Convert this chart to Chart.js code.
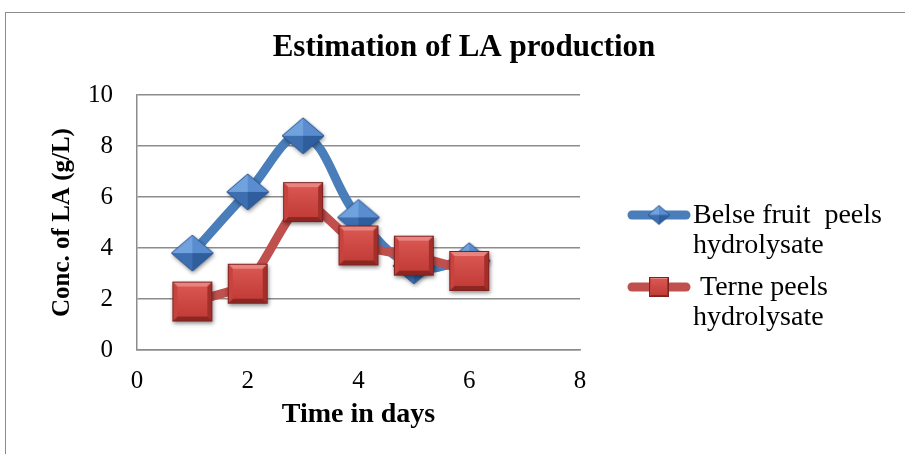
<!DOCTYPE html>
<html>
<head>
<meta charset="utf-8">
<script src="https://cdn.jsdelivr.net/npm/chart.js@4.4.0/dist/chart.umd.min.js"></script>
<style>
html, body { margin: 0; padding: 0; background: #fff; overflow: hidden; }
#wrap { position: relative; width: 905px; height: 454px; }
#frame { position: absolute; left: 5px; top: 12px; width: 1000px; height: 1000px;
  border-top: 1.5px solid #8c8c8c; border-left: 1.5px solid #8c8c8c; pointer-events: none; }
</style>
</head>
<body>
<div id="wrap">
  <canvas id="myChart" width="905" height="454" style="width:905px;height:454px"></canvas>
  <div id="frame"></div>
</div>
<script>
const days = [1, 2, 3, 4, 5, 6];
const belse = [3.8, 6.2, 8.4, 5.2, 3.3, 3.5];
const terne = [1.9, 2.6, 5.8, 4.1, 3.7, 3.1];
const xTicks = [0, 2, 4, 6, 8];
const yTicks = [0, 2, 4, 6, 8, 10];
const chartTitle = 'Estimation of LA production';
const belseName = ['Belse fruit  peels', 'hydrolysate'];
const terneName = [' Terne peels', 'hydrolysate'];

const serif = "'Liberation Serif', 'Times New Roman', serif";
const blue = '#4a7ebb';
const red = '#c0504d';

function poly(g, pts) {
    g.beginPath();
    g.moveTo(pts[0][0], pts[0][1]);
    for (let i = 1; i < pts.length; i++) g.lineTo(pts[i][0], pts[i][1]);
    g.closePath();
}

// excel style bevelled diamond
function diamondImg(w, h, shadow) {
    const pad = shadow ? 6 : 1;
    const c = document.createElement('canvas');
    c.width = w + pad * 2;
    c.height = h + pad * 2;
    const g = c.getContext('2d');
    const cx = c.width / 2, cy = c.height / 2;
    const L = [cx - w / 2, cy], T = [cx, cy - h / 2], R = [cx + w / 2, cy], B = [cx, cy + h / 2], C = [cx, cy];
    if (shadow) {
        g.save();
        g.shadowColor = 'rgba(0,0,0,0.45)';
        g.shadowBlur = 4;
        g.shadowOffsetX = 1;
        g.shadowOffsetY = 2;
        poly(g, [L, T, R, B]);
        g.fillStyle = '#3a6aa8';
        g.fill();
        g.restore();
    }
    const faces = [[L, T, '#70a2de'], [T, R, '#5a8dcf'], [R, B, '#2f5e9e'], [B, L, '#3d6eb0']];
    faces.forEach(f => { poly(g, [f[0], f[1], C]); g.fillStyle = f[2]; g.fill(); });
    poly(g, [L, T, R, B]);
    g.strokeStyle = '#2a5590';
    g.lineWidth = 1;
    g.stroke();
    return c;
}

// excel style bevelled square
function squareImg(s, shadow) {
    const pad = shadow ? 6 : 1;
    const c = document.createElement('canvas');
    c.width = s + pad * 2;
    c.height = s + pad * 2;
    const g = c.getContext('2d');
    const x0 = pad, y0 = pad, x1 = pad + s, y1 = pad + s;
    const b = Math.round(s * 0.12);
    if (shadow) {
        g.save();
        g.shadowColor = 'rgba(0,0,0,0.45)';
        g.shadowBlur = 4;
        g.shadowOffsetX = 1;
        g.shadowOffsetY = 2;
        g.fillStyle = '#a8302c';
        g.fillRect(x0, y0, s, s);
        g.restore();
    }
    const grad = g.createLinearGradient(0, y0, 0, y1);
    grad.addColorStop(0, '#dc5a55');
    grad.addColorStop(1, '#bf3834');
    g.fillStyle = grad;
    g.fillRect(x0, y0, s, s);
    poly(g, [[x0, y0], [x1, y0], [x1 - b, y0 + b], [x0 + b, y0 + b]]); g.fillStyle = '#e8837e'; g.fill();
    poly(g, [[x1, y0], [x1, y1], [x1 - b, y1 - b], [x1 - b, y0 + b]]); g.fillStyle = '#a32f2b'; g.fill();
    poly(g, [[x1, y1], [x0, y1], [x0 + b, y1 - b], [x1 - b, y1 - b]]); g.fillStyle = '#8c2623'; g.fill();
    poly(g, [[x0, y1], [x0, y0], [x0 + b, y0 + b], [x0 + b, y1 - b]]); g.fillStyle = '#c8423e'; g.fill();
    g.strokeStyle = '#7d2220';
    g.lineWidth = 1;
    g.strokeRect(x0 + 0.5, y0 + 0.5, s - 1, s - 1);
    return c;
}

const blueMark = diamondImg(42, 36, true);
const redMark = squareImg(40, true);
const blueMarkSmall = diamondImg(22, 19, false);
const redMarkSmall = squareImg(20, false);

// title centred on the whole picture, legend at the right with two-line labels
const sidePlugin = {
    id: 'sideStuff',
    afterDraw(chart) {
        const ctx = chart.ctx;
        ctx.save();
        ctx.fillStyle = '#000';
        ctx.font = 'bold 31px ' + serif;
        ctx.textAlign = 'center';
        ctx.textBaseline = 'middle';
        ctx.fillText(chartTitle, 464, 48);

        const items = [
            { color: blue, img: blueMarkSmall, y: 215, lines: belseName },
            { color: red, img: redMarkSmall, y: 287, lines: terneName }
        ];
        items.forEach(it => {
            ctx.strokeStyle = it.color;
            ctx.lineWidth = 9;
            ctx.lineCap = 'round';
            ctx.beginPath();
            ctx.moveTo(632, it.y);
            ctx.lineTo(686, it.y);
            ctx.stroke();
            ctx.drawImage(it.img, 659 - it.img.width / 2, it.y - it.img.height / 2);
            ctx.fillStyle = '#000';
            ctx.font = '28px ' + serif;
            ctx.textBaseline = 'middle';
            ctx.textAlign = 'left';
            it.lines.forEach((t, i) => ctx.fillText(t, 693, it.y + 1 + i * 30));
        });
        ctx.restore();
    }
};

const chart = document.querySelector('#myChart');
let myChart = new Chart(chart, {
    type: 'line',
    data: {
        datasets: [{
            label: belseName.join(' '),
            data: days.map((d, i) => ({ x: d, y: belse[i] })),
            borderColor: blue,
            backgroundColor: blue,
            borderWidth: 9,
            tension: 0.4,
            pointStyle: blueMark,
            pointRadius: 20,
            order: 2
        }, {
            label: terneName.join(' '),
            data: days.map((d, i) => ({ x: d, y: terne[i] })),
            borderColor: red,
            backgroundColor: red,
            borderWidth: 9,
            tension: 0.2,
            pointStyle: redMark,
            pointRadius: 20,
            order: 1
        }]
    },
    options: {
        responsive: false,
        animation: false,
        devicePixelRatio: 1,
        layout: { padding: { left: 0, right: 325, top: 95, bottom: 0 } },
        plugins: {
            legend: { display: false },
            tooltip: { enabled: false },
            title: { display: false }
        },
        scales: {
            x: {
                type: 'linear',
                min: 0,
                max: 8,
                afterBuildTicks: axis => { axis.ticks = xTicks.map(v => ({ value: v })); },
                afterFit: axis => { axis.height = 104; },
                grid: { display: false, drawTicks: false },
                border: { display: true, color: '#8c8c8c', width: 1.5 },
                ticks: { color: '#000', padding: 16, font: { family: serif, size: 25 } },
                title: {
                    display: true,
                    text: 'Time in days',
                    color: '#000',
                    font: { family: serif, size: 28, weight: 'bold' },
                    padding: { top: 0, bottom: 22 }
                }
            },
            y: {
                min: 0,
                max: 10,
                afterBuildTicks: axis => { axis.ticks = yTicks.map(v => ({ value: v })); },
                afterFit: axis => { axis.width = 137; },
                grid: { color: '#8c8c8c', lineWidth: 1.5, drawTicks: false },
                border: { display: true, color: '#8c8c8c', width: 1.5 },
                ticks: { color: '#000', padding: 24, font: { family: serif, size: 25 } },
                title: {
                    display: true,
                    text: 'Conc. of LA (g/L)',
                    color: '#000',
                    font: { family: serif, size: 25, weight: 'bold' },
                    padding: { top: 48, bottom: 0 }
                }
            }
        }
    },
    plugins: [sidePlugin]
});
</script>
</body>
</html>
